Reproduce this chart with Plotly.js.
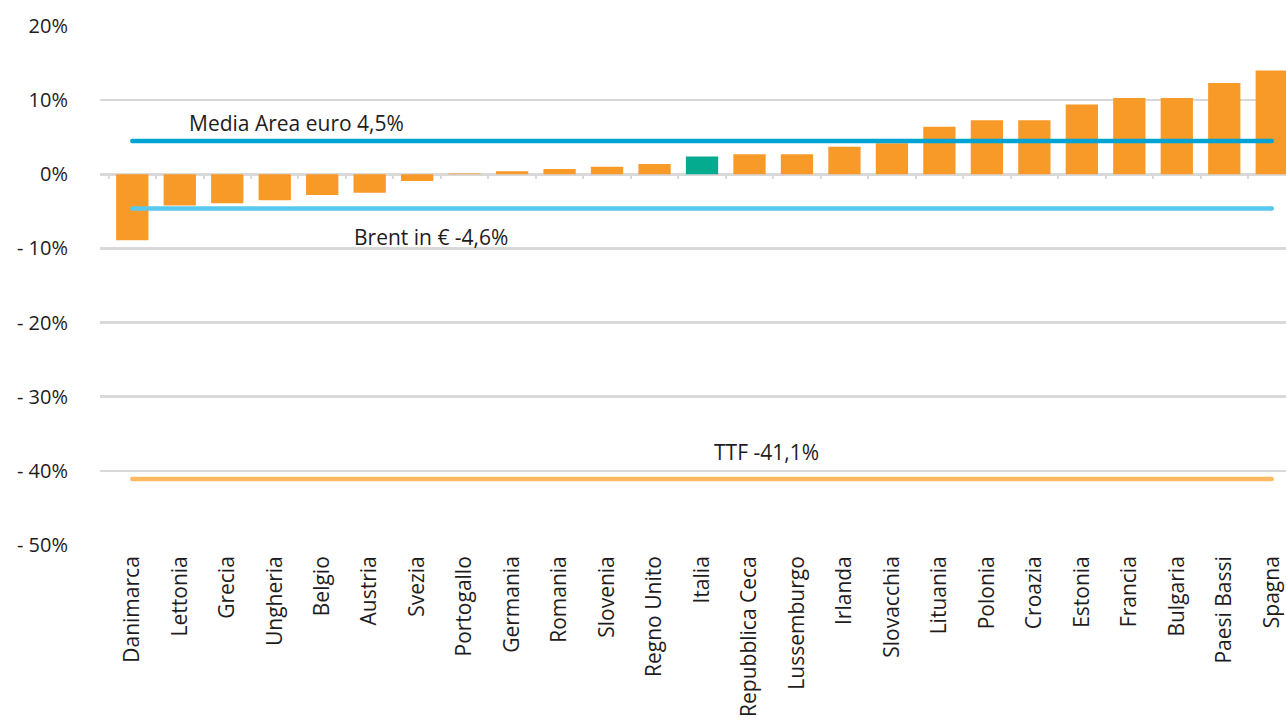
<!DOCTYPE html>
<html>
<head>
<meta charset="utf-8">
<script src="https://cdn.plot.ly/plotly-3.0.1.min.js"></script>
<style>html,body{margin:0;padding:0;background:#fff;}#chart{width:1286px;height:720px;}</style>
</head>
<body>
<div id="chart"></div>
<script>
// ---- data ----
const categories = ["Danimarca","Lettonia","Grecia","Ungheria","Belgio","Austria","Svezia","Portogallo","Germania","Romania","Slovenia","Regno Unito","Italia","Repubblica Ceca","Lussemburgo","Irlanda","Slovacchia","Lituania","Polonia","Croazia","Estonia","Francia","Bulgaria","Paesi Bassi","Spagna"];
const values = [-8.9,-4.2,-3.9,-3.5,-2.8,-2.5,-0.9,0.1,0.4,0.7,1.0,1.4,2.4,2.7,2.7,3.7,4.2,6.4,7.3,7.3,9.4,10.3,10.3,12.3,14.0];
const highlight = "Italia";
const benchmarkNames = ["Media Area euro", "Brent in €", "TTF"];
const benchmarkValues = [4.5, -4.6, -41.1];
const yTickValues = [20, 10, 0, -10, -20, -30, -40, -50];
const yTickLabels = ["20%", "10%", "0%", "- 10%", "- 20%", "- 30%", "- 40%", "- 50%"];

// ---- styles ----
const ORANGE = "#f89a28", TEAL = "#05ab8f";
const lineColors = ["#00a3d4", "#58c8ed", "#ffb961"];
const labelPos = [{x: 3.45, y: 6.9}, {x: 6.29, y: -8.5}, {x: 13.35, y: -37.4}];
const fmt = v => String(v).replace(".", ",") + "%";
const FONT = "Open Sans, Liberation Sans, sans-serif";
const TEXT = "#1f1c1d";

const traces = [{
  type: "bar",
  x: categories,
  y: values,
  marker: {color: categories.map(c => c === highlight ? TEAL : ORANGE)},
  hoverinfo: "skip"
}, {
  // invisible trace carrying the zero-line tick axis
  type: "bar",
  x: categories,
  y: values,
  xaxis: "x2",
  marker: {color: "rgba(0,0,0,0)"},
  hoverinfo: "skip"
}];

benchmarkValues.forEach((v, i) => {
  traces.push({
    type: "scatter",
    mode: "lines+markers",
    x: [categories[0], categories[categories.length - 1]],
    y: [v, v],
    line: {color: lineColors[i], width: 4.5},
    marker: {color: lineColors[i], size: 4.5},
    hoverinfo: "skip"
  });
});

const annotations = benchmarkNames.map((n, i) => ({
  x: labelPos[i].x, y: labelPos[i].y, xref: "x", yref: "y",
  text: n + " " + fmt(benchmarkValues[i]),
  showarrow: false,
  font: {family: FONT, size: 21, color: TEXT},
  xanchor: "center", yanchor: "middle"
}));

const layout = {
  width: 1286, height: 720,
  margin: {l: 100, r: 0, t: 26, b: 175, pad: 0},
  paper_bgcolor: "#fff", plot_bgcolor: "#fff",
  showlegend: false,
  hovermode: false,
  bargap: 0.32,
  font: {family: FONT, color: TEXT},
  xaxis: {
    type: "category",
    categoryorder: "array", categoryarray: categories,
    range: [-0.68, 24.3],
    tickangle: -90,
    ticks: "",
    showgrid: false,
    showline: false,
    zeroline: false,
    ticklabelstandoff: 6,
    tickfont: {family: FONT, size: 21, color: TEXT}
  },
  xaxis2: {
    type: "category",
    categoryorder: "array", categoryarray: categories,
    matches: "x",
    overlaying: "x",
    anchor: "free",
    position: 50 / 70,
    side: "bottom",
    showticklabels: false,
    ticks: "outside",
    tickson: "boundaries",
    ticklen: 4,
    tickwidth: 2,
    tickcolor: "#d9d9d9",
    showgrid: false,
    showline: false,
    zeroline: false
  },
  yaxis: {
    range: [-50, 20],
    tickvals: yTickValues,
    ticktext: yTickLabels,
    ticks: "",
    ticklabelstandoff: 31,
    showgrid: true,
    gridcolor: "#d9d9d9",
    gridwidth: 2.5,
    zeroline: true,
    zerolinecolor: "#d9d9d9",
    zerolinewidth: 2.5,
    showline: false,
    tickfont: {family: FONT, size: 20, color: TEXT}
  },
  annotations: annotations
};

Plotly.newPlot("chart", traces, layout, {staticPlot: true, displayModeBar: false});
</script>
</body>
</html>
